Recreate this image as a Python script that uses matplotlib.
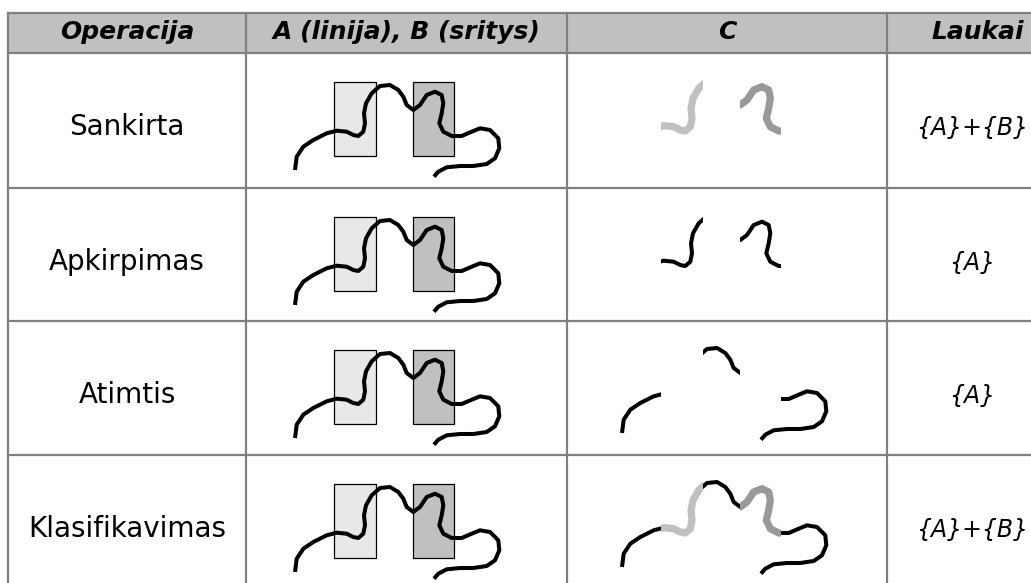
import matplotlib.pyplot as plt
from matplotlib.patches import Rectangle

# table content
headers = ["Operacija", "A (linija), B (sritys)", "C", "Laukai"]
operations = ["Sankirta", "Apkirpimas", "Atimtis", "Klasifikavimas"]
fields = ["{A}+{B}", "{A}", "{A}", "{A}+{B}"]
# what column C shows for each row: which parts of line A, and coloured or not
c_parts = [["light", "dark"], ["light", "dark"], ["out"], ["out", "light", "dark"]]
c_colored = [True, False, False, True]

# line A (pixels, relative to the cell corner)
line_x = [49, 50.7, 57.3, 67.3, 80.7, 90.7, 100.7, 107.3, 112.3, 117.3, 119, 118,
          120, 125.7, 134, 144, 152.3, 157.3, 160.7, 167.3, 174, 180.7, 189, 195.7,
          197.3, 195.7, 193.3, 197.3, 205.7, 215.7, 225.7, 234, 244, 252.3, 253.3,
          249, 240.7, 227.3, 214, 200.7, 192.3, 188]
line_y = [117, 103.7, 93.7, 87, 80.3, 77.7, 78.7, 82, 83, 78.7, 70.3, 60.3,
          50.3, 40.3, 33, 32, 37, 43.7, 52, 57, 52, 42, 38.7, 42,
          50.3, 60.3, 70.3, 78.7, 83, 83, 78.7, 75.3, 77, 85.3, 95.3,
          105.3, 111, 113, 113, 114.3, 118.7, 123.7]
# areas B (x0, x1, y0, y1) in the same cell coordinates
area_light = (88.3, 129.7, 29.3, 102.7)
area_dark = (167.3, 208.0, 29.3, 102.7)

col_edges = [8, 246, 567, 887, 1069]
row_edges = [13, 53, 188, 321, 455, 589]
grid_col = "#808080"
light_fill, dark_fill = "#e8e8e8", "#c0c0c0"
light_line, dark_line = "#c0c0c0", "#999999"

fig = plt.figure(figsize=(10.31, 5.83), dpi=100)
ax = fig.add_axes([0, 0, 1, 1])
ax.set_xlim(0, 1031)
ax.set_ylim(583, 0)
ax.axis("off")

# header band
ax.add_patch(Rectangle((col_edges[0], row_edges[0]), col_edges[-1] - col_edges[0],
                       row_edges[1] - row_edges[0], fc="#c0c0c0", ec="none", zorder=0))
for y in row_edges[:-1]:
    ax.plot([col_edges[0], col_edges[-1]], [y, y], color=grid_col, lw=1.6, zorder=5)
for x in col_edges[:-1]:
    ax.plot([x, x], [row_edges[0], row_edges[-1]], color=grid_col, lw=1.6, zorder=5)

for i, h in enumerate(headers):
    xc = (col_edges[i] + col_edges[i + 1]) / 2
    ax.text(xc, 39, h, ha="center", va="baseline", fontsize=18, fontweight="bold",
            fontstyle="italic")


def draw_line(x0, y0, clip=None, color="black", lw=2.9):
    xs = [x0 + v for v in line_x]
    ys = [y0 + v for v in line_y]
    ln, = ax.plot(xs, ys, color=color, lw=lw, solid_capstyle="butt",
                  solid_joinstyle="round", zorder=3)
    if clip is not None:
        r = Rectangle((x0 + clip[0], y0 + clip[2]), clip[1] - clip[0],
                      clip[3] - clip[2], transform=ax.transData)
        ln.set_clip_path(r)


big = 1000
al, ad = area_light, area_dark
clips = {
    "light": [al],
    "dark": [ad],
    "out": [(-big, al[0], -big, big), (al[1], ad[0], -big, big),
            (ad[1], big, -big, big), (ad[0], ad[1], ad[3], big),
            (al[0], al[1], al[3], big)],
}
c_dx, c_dy = 6, -5

for r, op in enumerate(operations):
    top = row_edges[r + 1]
    ax.text((col_edges[0] + col_edges[1]) / 2, top + 82, op, ha="center",
            va="baseline", fontsize=20)
    ax.text(972, top + 82, fields[r], ha="center", va="baseline", fontsize=17,
            fontstyle="italic")

    # column B: two areas and the line
    bx = col_edges[1]
    for (ax0, ax1, ay0, ay1), fc in [(area_light, light_fill), (area_dark, dark_fill)]:
        ax.add_patch(Rectangle((bx + ax0, top + ay0), ax1 - ax0, ay1 - ay0,
                               fc=fc, ec="black", lw=0.9, zorder=2))
    draw_line(bx, top)

    # column C: result
    cx = col_edges[2] + c_dx
    cy = top + c_dy
    for part in c_parts[r]:
        if part == "out":
            col, lw = "black", 2.9
        elif c_colored[r]:
            col = light_line if part == "light" else dark_line
            lw = 5.2
        else:
            col, lw = "black", 2.9
        for cl in clips[part]:
            draw_line(cx, cy, clip=cl, color=col, lw=lw)

fig.savefig("out.png", dpi=100)
